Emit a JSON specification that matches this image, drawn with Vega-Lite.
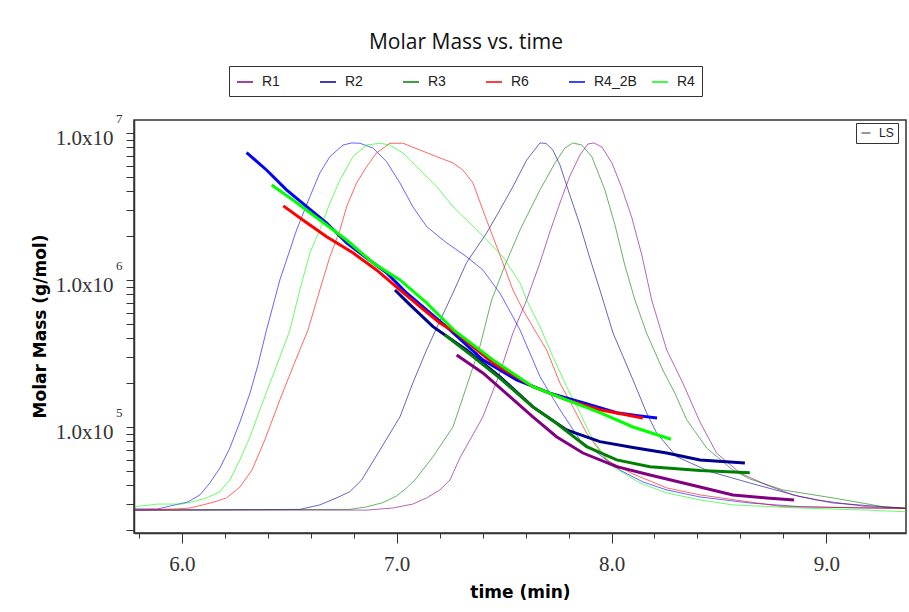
{
  "$schema": "https://vega.github.io/schema/vega-lite/v6.json",
  "width": 772,
  "height": 413,
  "autosize": {"type": "none"},
  "padding": {"left": 134, "top": 120, "right": 3, "bottom": 79},
  "background": "white",
  "title": {"text": "Molar Mass vs. time", "font": "Open Sans", "fontSize": 21, "fontWeight": "normal", "color": "#111", "anchor": "middle", "dx": -54, "offset": -4, "baseline": "alphabetic"},
  "config": {"view": {"stroke": "#333", "strokeWidth": 1.5}, "axis": {"grid": false}},
  "datasets": {
    "d": [
      {"run":"R4_2B","sig":"LS","t":5.78,"m":2.77e4},{"run":"R4_2B","sig":"LS","t":5.888,"m":2.77e4},{"run":"R4_2B","sig":"LS","t":5.967,"m":2.95e4},{"run":"R4_2B","sig":"LS","t":6.028,"m":3.09e4},{"run":"R4_2B","sig":"LS","t":6.084,"m":3.45e4},{"run":"R4_2B","sig":"LS","t":6.130,"m":4.16e4},{"run":"R4_2B","sig":"LS","t":6.177,"m":5.26e4},{"run":"R4_2B","sig":"LS","t":6.223,"m":7.19e4},{"run":"R4_2B","sig":"LS","t":6.270,"m":1.08e5},{"run":"R4_2B","sig":"LS","t":6.317,"m":1.70e5},{"run":"R4_2B","sig":"LS","t":6.354,"m":2.64e5},{"run":"R4_2B","sig":"LS","t":6.394,"m":4.57e5},{"run":"R4_2B","sig":"LS","t":6.456,"m":1.0e6},{"run":"R4_2B","sig":"LS","t":6.534,"m":2.19e6},{"run":"R4_2B","sig":"LS","t":6.596,"m":3.69e6},{"run":"R4_2B","sig":"LS","t":6.642,"m":5.34e6},{"run":"R4_2B","sig":"LS","t":6.689,"m":6.90e6},{"run":"R4_2B","sig":"LS","t":6.750,"m":8.28e6},{"run":"R4_2B","sig":"LS","t":6.791,"m":8.55e6},{"run":"R4_2B","sig":"LS","t":6.829,"m":8.51e6},{"run":"R4_2B","sig":"LS","t":6.889,"m":7.90e6},{"run":"R4_2B","sig":"LS","t":6.953,"m":6.38e6},{"run":"R4_2B","sig":"LS","t":7.015,"m":4.57e6},{"run":"R4_2B","sig":"LS","t":7.075,"m":3.15e6},{"run":"R4_2B","sig":"LS","t":7.139,"m":2.31e6},{"run":"R4_2B","sig":"LS","t":7.232,"m":1.79e6},{"run":"R4_2B","sig":"LS","t":7.325,"m":1.44e6},{"run":"R4_2B","sig":"LS","t":7.401,"m":1.17e6},{"run":"R4_2B","sig":"LS","t":7.480,"m":8.16e5},{"run":"R4_2B","sig":"LS","t":7.541,"m":5.62e5},{"run":"R4_2B","sig":"LS","t":7.574,"m":4.57e5},{"run":"R4_2B","sig":"LS","t":7.667,"m":2.20e5},{"run":"R4_2B","sig":"LS","t":7.760,"m":1.31e5},{"run":"R4_2B","sig":"LS","t":7.853,"m":8.16e4},{"run":"R4_2B","sig":"LS","t":7.946,"m":6.45e4},{"run":"R4_2B","sig":"LS","t":8.039,"m":5.09e4},{"run":"R4_2B","sig":"LS","t":8.146,"m":4.23e4},{"run":"R4_2B","sig":"LS","t":8.257,"m":3.73e4},{"run":"R4_2B","sig":"LS","t":8.412,"m":3.34e4},{"run":"R4_2B","sig":"LS","t":8.644,"m":3.04e4},{"run":"R4_2B","sig":"LS","t":8.877,"m":2.87e4},{"run":"R4_2B","sig":"LS","t":9.188,"m":2.81e4},{"run":"R4_2B","sig":"LS","t":9.371,"m":2.79e4},

      {"run":"R2","sig":"LS","t":5.78,"m":2.72e4},{"run":"R2","sig":"LS","t":6.549,"m":2.75e4},{"run":"R2","sig":"LS","t":6.642,"m":2.95e4},{"run":"R2","sig":"LS","t":6.720,"m":3.29e4},{"run":"R2","sig":"LS","t":6.782,"m":3.63e4},{"run":"R2","sig":"LS","t":6.837,"m":4.36e4},{"run":"R2","sig":"LS","t":6.922,"m":6.98e4},{"run":"R2","sig":"LS","t":7.015,"m":1.17e5},{"run":"R2","sig":"LS","t":7.075,"m":1.99e5},{"run":"R2","sig":"LS","t":7.139,"m":3.34e5},{"run":"R2","sig":"LS","t":7.201,"m":5.26e5},{"run":"R2","sig":"LS","t":7.262,"m":8.16e5},{"run":"R2","sig":"LS","t":7.325,"m":1.31e6},{"run":"R2","sig":"LS","t":7.419,"m":2.09e6},{"run":"R2","sig":"LS","t":7.480,"m":2.99e6},{"run":"R2","sig":"LS","t":7.541,"m":4.31e6},{"run":"R2","sig":"LS","t":7.605,"m":6.55e6},{"run":"R2","sig":"LS","t":7.667,"m":8.55e6},{"run":"R2","sig":"LS","t":7.695,"m":8.49e6},{"run":"R2","sig":"LS","t":7.727,"m":7.66e6},{"run":"R2","sig":"LS","t":7.760,"m":6.05e6},{"run":"R2","sig":"LS","t":7.806,"m":3.78e6},{"run":"R2","sig":"LS","t":7.853,"m":2.37e6},{"run":"R2","sig":"LS","t":7.899,"m":1.41e6},{"run":"R2","sig":"LS","t":7.946,"m":8.55e5},{"run":"R2","sig":"LS","t":8.007,"m":4.36e5},{"run":"R2","sig":"LS","t":8.100,"m":2.09e5},{"run":"R2","sig":"LS","t":8.163,"m":1.25e5},{"run":"R2","sig":"LS","t":8.210,"m":9.10e4},{"run":"R2","sig":"LS","t":8.303,"m":6.28e4},{"run":"R2","sig":"LS","t":8.458,"m":4.97e4},{"run":"R2","sig":"LS","t":8.644,"m":4.16e4},{"run":"R2","sig":"LS","t":8.877,"m":3.36e4},{"run":"R2","sig":"LS","t":9.031,"m":3.04e4},{"run":"R2","sig":"LS","t":9.343,"m":2.81e4},{"run":"R2","sig":"LS","t":9.371,"m":2.79e4},

      {"run":"R3","sig":"LS","t":5.78,"m":2.72e4},{"run":"R3","sig":"LS","t":6.782,"m":2.75e4},{"run":"R3","sig":"LS","t":6.860,"m":2.86e4},{"run":"R3","sig":"LS","t":6.936,"m":3.06e4},{"run":"R3","sig":"LS","t":7.000,"m":3.40e4},{"run":"R3","sig":"LS","t":7.046,"m":3.85e4},{"run":"R3","sig":"LS","t":7.085,"m":4.36e4},{"run":"R3","sig":"LS","t":7.169,"m":6.28e4},{"run":"R3","sig":"LS","t":7.262,"m":1.00e5},{"run":"R3","sig":"LS","t":7.325,"m":1.88e5},{"run":"R3","sig":"LS","t":7.387,"m":3.52e5},{"run":"R3","sig":"LS","t":7.442,"m":7.31e5},{"run":"R3","sig":"LS","t":7.504,"m":1.26e6},{"run":"R3","sig":"LS","t":7.574,"m":2.19e6},{"run":"R3","sig":"LS","t":7.667,"m":4.10e6},{"run":"R3","sig":"LS","t":7.737,"m":6.25e6},{"run":"R3","sig":"LS","t":7.783,"m":7.90e6},{"run":"R3","sig":"LS","t":7.820,"m":8.55e6},{"run":"R3","sig":"LS","t":7.862,"m":8.28e6},{"run":"R3","sig":"LS","t":7.909,"m":6.87e6},{"run":"R3","sig":"LS","t":7.969,"m":4.10e6},{"run":"R3","sig":"LS","t":8.016,"m":2.37e6},{"run":"R3","sig":"LS","t":8.062,"m":1.26e6},{"run":"R3","sig":"LS","t":8.109,"m":7.31e5},{"run":"R3","sig":"LS","t":8.163,"m":4.36e5},{"run":"R3","sig":"LS","t":8.239,"m":2.44e5},{"run":"R3","sig":"LS","t":8.295,"m":1.70e5},{"run":"R3","sig":"LS","t":8.350,"m":1.12e5},{"run":"R3","sig":"LS","t":8.443,"m":7.19e4},{"run":"R3","sig":"LS","t":8.565,"m":5.09e4},{"run":"R3","sig":"LS","t":8.644,"m":4.43e4},{"run":"R3","sig":"LS","t":8.798,"m":3.73e4},{"run":"R3","sig":"LS","t":9.031,"m":3.29e4},{"run":"R3","sig":"LS","t":9.264,"m":2.87e4},{"run":"R3","sig":"LS","t":9.371,"m":2.81e4},

      {"run":"R1","sig":"LS","t":5.78,"m":2.72e4},{"run":"R1","sig":"LS","t":6.860,"m":2.72e4},{"run":"R1","sig":"LS","t":6.982,"m":2.81e4},{"run":"R1","sig":"LS","t":7.075,"m":2.99e4},{"run":"R1","sig":"LS","t":7.139,"m":3.29e4},{"run":"R1","sig":"LS","t":7.201,"m":3.73e4},{"run":"R1","sig":"LS","t":7.248,"m":4.36e4},{"run":"R1","sig":"LS","t":7.294,"m":6.15e4},{"run":"R1","sig":"LS","t":7.401,"m":1.17e5},{"run":"R1","sig":"LS","t":7.480,"m":2.33e5},{"run":"R1","sig":"LS","t":7.541,"m":4.36e5},{"run":"R1","sig":"LS","t":7.605,"m":7.31e5},{"run":"R1","sig":"LS","t":7.667,"m":1.31e6},{"run":"R1","sig":"LS","t":7.713,"m":2.12e6},{"run":"R1","sig":"LS","t":7.760,"m":3.34e6},{"run":"R1","sig":"LS","t":7.806,"m":5.09e6},{"run":"R1","sig":"LS","t":7.853,"m":7.08e6},{"run":"R1","sig":"LS","t":7.890,"m":8.41e6},{"run":"R1","sig":"LS","t":7.918,"m":8.55e6},{"run":"R1","sig":"LS","t":7.955,"m":8.03e6},{"run":"R1","sig":"LS","t":8.002,"m":6.25e6},{"run":"R1","sig":"LS","t":8.048,"m":4.23e6},{"run":"R1","sig":"LS","t":8.095,"m":2.64e6},{"run":"R1","sig":"LS","t":8.141,"m":1.48e6},{"run":"R1","sig":"LS","t":8.187,"m":7.31e5},{"run":"R1","sig":"LS","t":8.257,"m":3.34e5},{"run":"R1","sig":"LS","t":8.332,"m":1.99e5},{"run":"R1","sig":"LS","t":8.412,"m":1.08e5},{"run":"R1","sig":"LS","t":8.489,"m":6.65e4},{"run":"R1","sig":"LS","t":8.598,"m":4.87e4},{"run":"R1","sig":"LS","t":8.722,"m":4.03e4},{"run":"R1","sig":"LS","t":8.845,"m":3.45e4},{"run":"R1","sig":"LS","t":8.955,"m":3.19e4},{"run":"R1","sig":"LS","t":9.063,"m":3.04e4},{"run":"R1","sig":"LS","t":9.188,"m":2.87e4},{"run":"R1","sig":"LS","t":9.371,"m":2.81e4},

      {"run":"R6","sig":"LS","t":5.78,"m":2.72e4},{"run":"R6","sig":"LS","t":5.975,"m":2.77e4},{"run":"R6","sig":"LS","t":6.037,"m":2.81e4},{"run":"R6","sig":"LS","t":6.098,"m":2.95e4},{"run":"R6","sig":"LS","t":6.154,"m":3.10e4},{"run":"R6","sig":"LS","t":6.208,"m":3.29e4},{"run":"R6","sig":"LS","t":6.270,"m":3.90e4},{"run":"R6","sig":"LS","t":6.326,"m":5.09e4},{"run":"R6","sig":"LS","t":6.386,"m":8.16e4},{"run":"R6","sig":"LS","t":6.456,"m":1.53e5},{"run":"R6","sig":"LS","t":6.526,"m":2.77e5},{"run":"R6","sig":"LS","t":6.587,"m":4.57e5},{"run":"R6","sig":"LS","t":6.642,"m":8.55e5},{"run":"R6","sig":"LS","t":6.689,"m":1.44e6},{"run":"R6","sig":"LS","t":6.736,"m":2.19e6},{"run":"R6","sig":"LS","t":6.767,"m":3.15e6},{"run":"R6","sig":"LS","t":6.813,"m":4.57e6},{"run":"R6","sig":"LS","t":6.860,"m":5.90e6},{"run":"R6","sig":"LS","t":6.906,"m":7.31e6},{"run":"R6","sig":"LS","t":6.968,"m":8.51e6},{"run":"R6","sig":"LS","t":7.029,"m":8.51e6},{"run":"R6","sig":"LS","t":7.108,"m":7.66e6},{"run":"R6","sig":"LS","t":7.186,"m":6.90e6},{"run":"R6","sig":"LS","t":7.262,"m":6.25e6},{"run":"R6","sig":"LS","t":7.308,"m":5.60e6},{"run":"R6","sig":"LS","t":7.355,"m":4.57e6},{"run":"R6","sig":"LS","t":7.401,"m":2.99e6},{"run":"R6","sig":"LS","t":7.448,"m":1.97e6},{"run":"R6","sig":"LS","t":7.494,"m":1.31e6},{"run":"R6","sig":"LS","t":7.541,"m":8.55e5},{"run":"R6","sig":"LS","t":7.588,"m":6.25e5},{"run":"R6","sig":"LS","t":7.634,"m":4.79e5},{"run":"R6","sig":"LS","t":7.698,"m":3.34e5},{"run":"R6","sig":"LS","t":7.760,"m":1.99e5},{"run":"R6","sig":"LS","t":7.820,"m":1.37e5},{"run":"R6","sig":"LS","t":7.884,"m":9.10e4},{"run":"R6","sig":"LS","t":7.977,"m":5.97e4},{"run":"R6","sig":"LS","t":8.100,"m":4.79e4},{"run":"R6","sig":"LS","t":8.257,"m":3.85e4},{"run":"R6","sig":"LS","t":8.412,"m":3.45e4},{"run":"R6","sig":"LS","t":8.798,"m":2.87e4},{"run":"R6","sig":"LS","t":9.371,"m":2.79e4},

      {"run":"R4","sig":"LS","t":5.78,"m":2.87e4},{"run":"R4","sig":"LS","t":5.888,"m":2.99e4},{"run":"R4","sig":"LS","t":5.999,"m":2.99e4},{"run":"R4","sig":"LS","t":6.051,"m":3.10e4},{"run":"R4","sig":"LS","t":6.115,"m":3.29e4},{"run":"R4","sig":"LS","t":6.177,"m":3.63e4},{"run":"R4","sig":"LS","t":6.223,"m":4.36e4},{"run":"R4","sig":"LS","t":6.270,"m":5.97e4},{"run":"R4","sig":"LS","t":6.317,"m":8.55e4},{"run":"R4","sig":"LS","t":6.363,"m":1.31e5},{"run":"R4","sig":"LS","t":6.410,"m":1.99e5},{"run":"R4","sig":"LS","t":6.456,"m":2.99e5},{"run":"R4","sig":"LS","t":6.503,"m":4.57e5},{"run":"R4","sig":"LS","t":6.549,"m":8.55e5},{"run":"R4","sig":"LS","t":6.596,"m":1.53e6},{"run":"R4","sig":"LS","t":6.642,"m":2.19e6},{"run":"R4","sig":"LS","t":6.689,"m":3.34e6},{"run":"R4","sig":"LS","t":6.736,"m":4.79e6},{"run":"R4","sig":"LS","t":6.796,"m":6.90e6},{"run":"R4","sig":"LS","t":6.860,"m":8.28e6},{"run":"R4","sig":"LS","t":6.922,"m":8.51e6},{"run":"R4","sig":"LS","t":6.968,"m":8.28e6},{"run":"R4","sig":"LS","t":7.029,"m":7.31e6},{"run":"R4","sig":"LS","t":7.108,"m":5.60e6},{"run":"R4","sig":"LS","t":7.186,"m":4.31e6},{"run":"R4","sig":"LS","t":7.262,"m":3.15e6},{"run":"R4","sig":"LS","t":7.341,"m":2.44e6},{"run":"R4","sig":"LS","t":7.419,"m":1.87e6},{"run":"R4","sig":"LS","t":7.494,"m":1.44e6},{"run":"R4","sig":"LS","t":7.574,"m":9.55e5},{"run":"R4","sig":"LS","t":7.605,"m":7.31e5},{"run":"R4","sig":"LS","t":7.667,"m":4.81e5},{"run":"R4","sig":"LS","t":7.727,"m":3.01e5},{"run":"R4","sig":"LS","t":7.791,"m":1.88e5},{"run":"R4","sig":"LS","t":7.853,"m":1.25e5},{"run":"R4","sig":"LS","t":7.913,"m":8.16e4},{"run":"R4","sig":"LS","t":8.007,"m":5.37e4},{"run":"R4","sig":"LS","t":8.132,"m":4.16e4},{"run":"R4","sig":"LS","t":8.257,"m":3.56e4},{"run":"R4","sig":"LS","t":8.412,"m":3.19e4},{"run":"R4","sig":"LS","t":8.565,"m":2.95e4},{"run":"R4","sig":"LS","t":8.877,"m":2.81e4},{"run":"R4","sig":"LS","t":9.188,"m":2.72e4},{"run":"R4","sig":"LS","t":9.371,"m":2.65e4},

      {"run":"R4_2B","sig":"MM","t":6.301,"m":7.35e6},{"run":"R4_2B","sig":"MM","t":6.394,"m":5.60e6},{"run":"R4_2B","sig":"MM","t":6.487,"m":4.10e6},{"run":"R4_2B","sig":"MM","t":6.581,"m":3.15e6},{"run":"R4_2B","sig":"MM","t":6.674,"m":2.44e6},{"run":"R4_2B","sig":"MM","t":6.767,"m":1.79e6},{"run":"R4_2B","sig":"MM","t":6.860,"m":1.41e6},{"run":"R4_2B","sig":"MM","t":6.953,"m":1.12e6},{"run":"R4_2B","sig":"MM","t":7.046,"m":8.16e5},{"run":"R4_2B","sig":"MM","t":7.139,"m":6.25e5},{"run":"R4_2B","sig":"MM","t":7.248,"m":4.57e5},{"run":"R4_2B","sig":"MM","t":7.401,"m":2.86e5},{"run":"R4_2B","sig":"MM","t":7.558,"m":2.09e5},{"run":"R4_2B","sig":"MM","t":7.713,"m":1.70e5},{"run":"R4_2B","sig":"MM","t":7.867,"m":1.46e5},{"run":"R4_2B","sig":"MM","t":8.024,"m":1.25e5},{"run":"R4_2B","sig":"MM","t":8.132,"m":1.19e5},{"run":"R4_2B","sig":"MM","t":8.212,"m":1.15e5},

      {"run":"R6","sig":"MM","t":6.472,"m":3.19e6},{"run":"R6","sig":"MM","t":6.563,"m":2.56e6},{"run":"R6","sig":"MM","t":6.674,"m":1.97e6},{"run":"R6","sig":"MM","t":6.796,"m":1.53e6},{"run":"R6","sig":"MM","t":6.906,"m":1.17e6},{"run":"R6","sig":"MM","t":7.015,"m":8.55e5},{"run":"R6","sig":"MM","t":7.108,"m":6.58e5},{"run":"R6","sig":"MM","t":7.201,"m":5.10e5},{"run":"R6","sig":"MM","t":7.271,"m":4.43e5},{"run":"R6","sig":"MM","t":7.448,"m":2.72e5},{"run":"R6","sig":"MM","t":7.634,"m":1.88e5},{"run":"R6","sig":"MM","t":7.791,"m":1.53e5},{"run":"R6","sig":"MM","t":7.946,"m":1.31e5},{"run":"R6","sig":"MM","t":8.146,"m":1.15e5},

      {"run":"R4","sig":"MM","t":6.418,"m":4.43e6},{"run":"R4","sig":"MM","t":6.517,"m":3.50e6},{"run":"R4","sig":"MM","t":6.642,"m":2.56e6},{"run":"R4","sig":"MM","t":6.767,"m":1.87e6},{"run":"R4","sig":"MM","t":6.889,"m":1.31e6},{"run":"R4","sig":"MM","t":7.015,"m":1.0e6},{"run":"R4","sig":"MM","t":7.139,"m":6.98e5},{"run":"R4","sig":"MM","t":7.271,"m":4.50e5},{"run":"R4","sig":"MM","t":7.448,"m":2.86e5},{"run":"R4","sig":"MM","t":7.634,"m":1.88e5},{"run":"R4","sig":"MM","t":7.791,"m":1.53e5},{"run":"R4","sig":"MM","t":7.946,"m":1.25e5},{"run":"R4","sig":"MM","t":8.100,"m":1.00e5},{"run":"R4","sig":"MM","t":8.277,"m":8.25e4},

      {"run":"R2","sig":"MM","t":6.992,"m":8.55e5},{"run":"R2","sig":"MM","t":7.061,"m":6.80e5},{"run":"R2","sig":"MM","t":7.169,"m":4.81e5},{"run":"R2","sig":"MM","t":7.325,"m":3.34e5},{"run":"R2","sig":"MM","t":7.480,"m":2.20e5},{"run":"R2","sig":"MM","t":7.634,"m":1.37e5},{"run":"R2","sig":"MM","t":7.791,"m":9.55e4},{"run":"R2","sig":"MM","t":7.946,"m":7.95e4},{"run":"R2","sig":"MM","t":8.100,"m":7.24e4},{"run":"R2","sig":"MM","t":8.257,"m":6.65e4},{"run":"R2","sig":"MM","t":8.412,"m":5.97e4},{"run":"R2","sig":"MM","t":8.621,"m":5.69e4},

      {"run":"R3","sig":"MM","t":7.224,"m":4.23e5},{"run":"R3","sig":"MM","t":7.355,"m":3.01e5},{"run":"R3","sig":"MM","t":7.480,"m":2.15e5},{"run":"R3","sig":"MM","t":7.634,"m":1.37e5},{"run":"R3","sig":"MM","t":7.744,"m":1.06e5},{"run":"R3","sig":"MM","t":7.884,"m":7.35e4},{"run":"R3","sig":"MM","t":8.024,"m":5.97e4},{"run":"R3","sig":"MM","t":8.179,"m":5.37e4},{"run":"R3","sig":"MM","t":8.412,"m":5.05e4},{"run":"R3","sig":"MM","t":8.644,"m":4.89e4},

      {"run":"R1","sig":"MM","t":7.279,"m":3.09e5},{"run":"R1","sig":"MM","t":7.401,"m":2.33e5},{"run":"R1","sig":"MM","t":7.527,"m":1.61e5},{"run":"R1","sig":"MM","t":7.634,"m":1.17e5},{"run":"R1","sig":"MM","t":7.744,"m":8.59e4},{"run":"R1","sig":"MM","t":7.867,"m":6.65e4},{"run":"R1","sig":"MM","t":8.024,"m":5.37e4},{"run":"R1","sig":"MM","t":8.179,"m":4.71e4},{"run":"R1","sig":"MM","t":8.412,"m":3.91e4},{"run":"R1","sig":"MM","t":8.565,"m":3.45e4},{"run":"R1","sig":"MM","t":8.722,"m":3.29e4},{"run":"R1","sig":"MM","t":8.850,"m":3.19e4}
    ]
  },
  "data": {"name": "d"},
  "resolve": {"axis": {"x": "independent", "y": "independent"}},
  "layer": [
    {
      "transform": [{"filter": "datum.sig == 'LS'"}],
      "mark": {"type": "line", "strokeOpacity": 0.6, "clip": true},
      "encoding": {
        "x": {"field": "t", "type": "quantitative", "scale": {"domain": [5.777, 9.371], "nice": false, "zero": false},
          "axis": {"orient": "bottom", "values": [6, 7, 8, 9], "format": ".1f", "tickSize": 10, "tickColor": "#333", "domainColor": "#333", "domainWidth": 1.5,
            "labelFont": "Liberation Serif", "labelFontSize": 21, "labelColor": "#333", "labelPadding": 10, "labelFlush": false,
            "title": "time (min)", "titleFont": "DejaVu Sans", "titleFontSize": 17, "titleFontWeight": "bold", "titleColor": "#000",
            "titleX": 386, "titleY": 59, "titleBaseline": "middle", "titleAlign": "center", "grid": false}},
        "y": {"field": "m", "type": "quantitative", "scale": {"type": "log", "domain": [19000, 12250000], "nice": false},
          "axis": {"orient": "left", "values": [20000, 30000, 40000, 50000, 60000, 70000, 80000, 90000, 100000, 200000, 300000, 400000, 500000, 600000, 700000, 800000, 900000, 1000000, 2000000, 3000000, 4000000, 5000000, 6000000, 7000000, 8000000, 9000000, 10000000],
            "labelExpr": "(datum.value == 100000 || datum.value == 1000000 || datum.value == 10000000) ? '1.0x10' : ''",
            "tickSize": 8, "tickColor": "#333", "domainColor": "#333", "domainWidth": 1.5,
            "labelFont": "Liberation Serif", "labelFontSize": 21, "labelColor": "#333", "labelPadding": 13, "labelOffset": 6, "labelOverlap": false, "labelBound": false, "labelFlush": false,
            "title": "Molar Mass (g/mol)", "titleFont": "DejaVu Sans", "titleFontSize": 17, "titleFontWeight": "bold", "titleColor": "#000",
            "titleX": -94, "titleY": 206, "titleAngle": -90, "titleBaseline": "middle", "titleAlign": "center", "grid": false}},
        "color": {"field": "run", "type": "nominal",
          "scale": {"domain": ["R1", "R2", "R3", "R6", "R4_2B", "R4"], "range": ["#800080", "#000090", "#008000", "#ff0000", "#0000ff", "#00ff00"]},
          "legend": {"title": null, "orient": "none", "legendX": 95, "legendY": -54, "direction": "horizontal", "columns": 6, "gridAlign": "all", "columnPadding": 12,
            "symbolType": "stroke", "symbolSize": 256, "symbolStrokeWidth": 1.5, "labelFont": "Liberation Sans", "labelFontSize": 14, "labelColor": "#222", "labelOffset": 8,
            "strokeColor": "#333", "fillColor": "white", "padding": 7, "labelLimit": 100}},
        "strokeWidth": {"field": "sig", "type": "ordinal", "scale": {"domain": ["LS", "MM"], "range": [1, 3]},
          "legend": {"values": ["LS"], "title": null, "orient": "none", "legendX": 722, "legendY": 3, "symbolType": "stroke", "symbolSize": 81, "symbolStrokeColor": "#333",
            "labelFont": "Liberation Sans", "labelFontSize": 12, "labelColor": "#222", "labelOffset": 7, "strokeColor": "#333", "fillColor": "white", "padding": 4}}
      }
    },
    {
      "transform": [{"filter": "datum.sig == 'MM'"}],
      "mark": {"type": "line", "clip": true},
      "encoding": {
        "x": {"field": "t", "type": "quantitative", "scale": {"domain": [5.777, 9.371], "nice": false, "zero": false},
          "axis": {"orient": "bottom", "values": [5.8, 6.2, 6.4, 6.6, 6.8, 7.2, 7.4, 7.6, 7.8, 8.2, 8.4, 8.6, 8.8, 9.2], "tickSize": 5, "tickColor": "#333", "labels": false, "domain": false, "title": null, "grid": false}},
        "y": {"field": "m", "type": "quantitative", "scale": {"type": "log", "domain": [19000, 12250000], "nice": false},
          "axis": {"orient": "left", "values": [100000, 1000000, 10000000], "ticks": false, "tickSize": 0, "domain": false,
            "labelExpr": "datum.value == 10000000 ? '7' : (datum.value == 1000000 ? '6' : '5')",
            "labelFont": "Liberation Serif", "labelFontSize": 13, "labelColor": "#333", "labelPadding": 12, "labelOffset": -14, "labelAlign": "right", "labelOverlap": false, "labelBound": false, "labelFlush": false, "title": null, "grid": false}},
        "color": {"field": "run", "type": "nominal",
          "scale": {"domain": ["R1", "R2", "R3", "R6", "R4_2B", "R4"], "range": ["#800080", "#000090", "#008000", "#ff0000", "#0000ff", "#00ff00"]},
          "legend": {"title": null, "orient": "none", "legendX": 95, "legendY": -54, "direction": "horizontal", "columns": 6, "gridAlign": "all", "columnPadding": 12,
            "symbolType": "stroke", "symbolSize": 256, "symbolStrokeWidth": 1.5, "labelFont": "Liberation Sans", "labelFontSize": 14, "labelColor": "#222", "labelOffset": 8,
            "strokeColor": "#333", "fillColor": "white", "padding": 7, "labelLimit": 100}},
        "strokeWidth": {"field": "sig", "type": "ordinal", "scale": {"domain": ["LS", "MM"], "range": [1, 3]},
          "legend": {"values": ["LS"], "title": null, "orient": "none", "legendX": 722, "legendY": 3, "symbolType": "stroke", "symbolSize": 81, "symbolStrokeColor": "#333",
            "labelFont": "Liberation Sans", "labelFontSize": 12, "labelColor": "#222", "labelOffset": 7, "strokeColor": "#333", "fillColor": "white", "padding": 4}}
      }
    }
  ]
}
